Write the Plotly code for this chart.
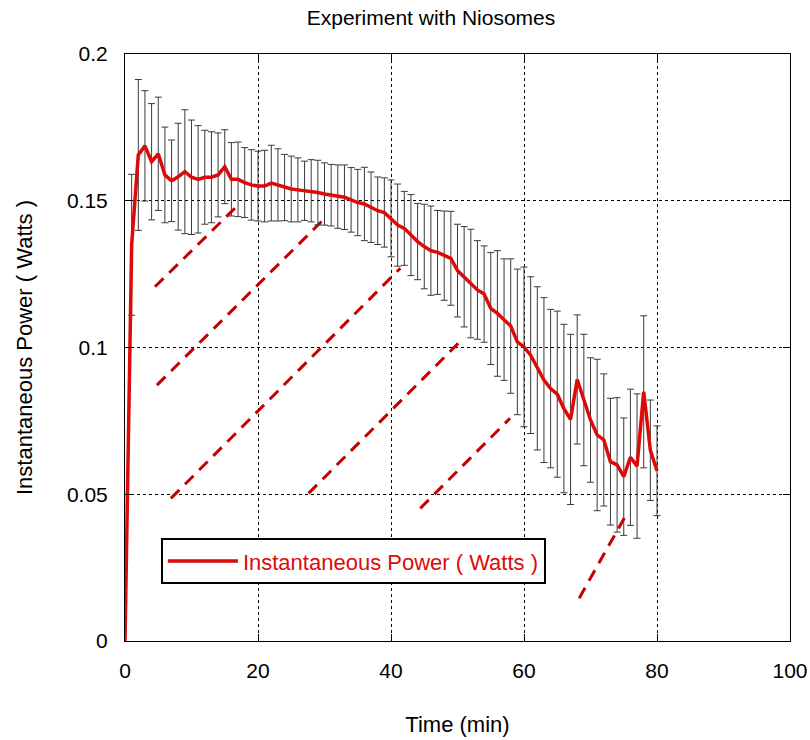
import plotly.graph_objects as go

# ---- data ----
time_min = list(range(0, 81))
power_w = [
    0.0, 0.135, 0.1656, 0.1687, 0.1633, 0.166, 0.1588, 0.1568, 0.1582, 0.1599,
    0.158, 0.1573, 0.158, 0.158, 0.1588, 0.1616, 0.1573, 0.1573, 0.1562, 0.1554,
    0.155, 0.155, 0.156, 0.1554, 0.1545, 0.154, 0.1537, 0.1534, 0.1534, 0.1528,
    0.1523, 0.1519, 0.1514, 0.1512, 0.1503, 0.1494, 0.1489, 0.1478, 0.1466, 0.146,
    0.144, 0.1417, 0.1406, 0.1383, 0.1361, 0.1344, 0.133, 0.1324, 0.1313, 0.1304,
    0.1262, 0.1241, 0.1218, 0.1196, 0.1182, 0.1133, 0.1116, 0.1095, 0.1073, 0.1019,
    0.1002, 0.0974, 0.0929, 0.0889, 0.086, 0.0841, 0.0792, 0.0755, 0.0891, 0.0821,
    0.0753, 0.0702, 0.0685, 0.0611, 0.06, 0.056, 0.0626, 0.0596, 0.0849, 0.065,
    0.058,
]
power_err = [
    0.0, 0.024, 0.0257, 0.0188, 0.0198, 0.0193, 0.0163, 0.0139, 0.0182, 0.0211,
    0.0195, 0.0183, 0.016, 0.0155, 0.0143, 0.0126, 0.0125, 0.0127, 0.0119, 0.012,
    0.0119, 0.0122, 0.0129, 0.0123, 0.0113, 0.0112, 0.0109, 0.0101, 0.0106, 0.011,
    0.0106, 0.0105, 0.0108, 0.011, 0.011, 0.0113, 0.0125, 0.012, 0.0115, 0.0118,
    0.0131, 0.014, 0.0126, 0.0138, 0.013, 0.0144, 0.0152, 0.0143, 0.0152, 0.016,
    0.0158, 0.0171, 0.0185, 0.0168, 0.0164, 0.0191, 0.0214, 0.0207, 0.0229, 0.0248,
    0.0272, 0.0267, 0.0278, 0.0281, 0.027, 0.0283, 0.0287, 0.029, 0.022, 0.0224,
    0.0212, 0.0258, 0.0225, 0.0216, 0.0229, 0.02, 0.0232, 0.0246, 0.0259, 0.0171,
    0.0153,
]

# decorative dashed diagonal segments (data units)
seg_x0 = [4.5, 4.8, 6.9, 27.6, 44.4, 68.3]
seg_y0 = [0.1207, 0.0872, 0.0486, 0.0503, 0.0452, 0.0146]
seg_x1 = [17.0, 30.3, 41.4, 50.1, 57.9, 75.5]
seg_y1 = [0.1485, 0.1446, 0.1270, 0.1014, 0.0759, 0.0436]

x_ticks = [0, 20, 40, 60, 80, 100]
y_ticks = [0, 0.05, 0.1, 0.15, 0.2]
y_tick_labels = ["0", "0.05", "0.1", "0.15", "0.2"]

FONT = "Arial, 'Liberation Sans', sans-serif"
RED = "#dd0a0a"
DARKRED = "#c40000"

fig = go.Figure()

# dashed diagonal segments
sx, sy = [], []
for a, b, c, d in zip(seg_x0, seg_y0, seg_x1, seg_y1):
    sx += [a, c, None]
    sy += [b, d, None]
fig.add_trace(go.Scatter(
    x=sx, y=sy, mode="lines",
    line=dict(color=DARKRED, width=3, dash="12px,8px"),
    showlegend=False, hoverinfo="skip",
))

# error bars (drawn separately, no legend)
fig.add_trace(go.Scatter(
    x=time_min[1:], y=power_w[1:], mode="markers",
    marker=dict(size=0.1, color="rgba(0,0,0,0)"),
    error_y=dict(type="data", array=power_err[1:], visible=True,
                 color="#3a3a3a", thickness=1, width=3.5),
    showlegend=False, hoverinfo="skip",
))

# main line
fig.add_trace(go.Scatter(
    x=time_min, y=power_w, mode="lines",
    line=dict(color=RED, width=3.5),
    name="Instantaneous Power ( Watts )",
))

axis_common = dict(
    showline=True, linecolor="black", linewidth=1, mirror="allticks",
    ticks="inside", ticklen=7, tickcolor="black", tickwidth=1,
    showgrid=True, gridcolor="black", gridwidth=1, griddash="3px,3px",
    zeroline=False, automargin=False,
    tickfont=dict(family=FONT, size=21, color="black"),
)

fig.update_xaxes(
    range=[0, 100], tickvals=x_ticks, ticklabelstandoff=11,
    title=dict(text="Time (min)", font=dict(family=FONT, size=22, color="black"), standoff=35),
    **axis_common,
)
fig.update_yaxes(
    range=[0, 0.2], tickvals=y_ticks, ticktext=y_tick_labels, ticklabelstandoff=12,
    title=dict(text="Instantaneous Power ( Watts )", font=dict(family=FONT, size=22, color="black"), standoff=28),
    **axis_common,
)

fig.update_layout(
    template="none",
    width=810, height=740,
    margin=dict(l=125, r=20, t=54, b=99),
    paper_bgcolor="white", plot_bgcolor="white",
    title=dict(text="Experiment with Niosomes", x=431 / 810, xanchor="center",
               y=1 - 18 / 740, yanchor="middle",
               font=dict(family=FONT, size=21, color="black")),
    legend=dict(x=0.054, y=0.175, xanchor="left", yanchor="top",
                bgcolor="white", bordercolor="black", borderwidth=2,
                itemwidth=70,
                font=dict(family=FONT, size=22, color=RED)),
    showlegend=True,
)

fig.write_html("out.html")
